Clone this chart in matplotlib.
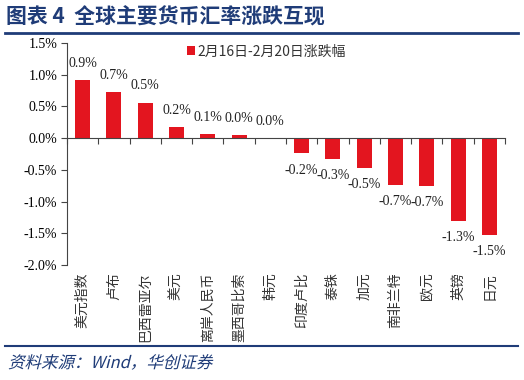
import matplotlib
matplotlib.use("Agg")
import matplotlib.pyplot as plt
from matplotlib.lines import Line2D
from matplotlib.patches import PathPatch
from matplotlib.textpath import TextPath
from matplotlib.font_manager import FontProperties
from matplotlib.transforms import Affine2D
import numpy as np

plt.rcParams['font.family'] = ['Noto Sans CJK SC', 'DejaVu Sans']

currencies = ['美元指数', '卢布', '巴西雷亚尔', '美元', '离岸人民币', '墨西哥比索', '韩元',
              '印度卢比', '泰铢', '加元', '南非兰特', '欧元', '英镑', '日元']
changes = [0.92, 0.73, 0.56, 0.18, 0.07, 0.05, 0.003,
           -0.24, -0.33, -0.47, -0.74, -0.75, -1.30, -1.53]
value_labels = ['0.9%', '0.7%', '0.5%', '0.2%', '0.1%', '0.0%', '0.0%',
                '-0.2%', '-0.3%', '-0.5%', '-0.7%', '-0.7%', '-1.3%', '-1.5%']
yticks = [1.5, 1.0, 0.5, 0.0, -0.5, -1.0, -1.5, -2.0]
legend_label = '2月16日-2月20日涨跌幅'

red = '#E3151F'
navy = '#1F3C78'
serif = ['Liberation Serif', 'DejaVu Serif']

fig = plt.figure(figsize=(5.24, 3.8), dpi=100)
ax = fig.add_axes([67/524, 1-265/380, 438/524, 222/380])

x = np.arange(len(currencies))
ax.bar(x, changes, width=0.48, color=red, label=legend_label, zorder=2)
ax.set_xlim(-0.5, len(currencies) - 0.5)
ax.set_ylim(-2.0, 1.5)

for xi, v, lab in zip(x, changes, value_labels):
    off = 12 if v >= 0 else -12
    ax.annotate(lab, (xi, v), xytext=(0, off), textcoords='offset points',
                ha='center', va='center', fontsize=10, family=serif, color='#222222')

ax.spines['top'].set_visible(False)
ax.spines['right'].set_visible(False)
ax.spines['bottom'].set_position(('data', 0))
ax.spines['left'].set_color('#444444')
ax.spines['bottom'].set_color('#444444')

ax.set_yticks(yticks)
ax.set_yticklabels([f'{t:.1f}%' for t in yticks], family=serif, fontsize=10)
ax.set_xticks(np.arange(-0.5, len(currencies), 1.0))
ax.set_xticklabels([])
ax.tick_params(axis='x', direction='out', length=4, color='#444444')
ax.tick_params(axis='y', direction='out', length=4, color='#444444', pad=3)

# category names: rotated, top-aligned just under the plot
for xi, name in zip(x, currencies):
    ax.text(xi, -2.12, name, rotation=90, ha='center', va='top',
            fontsize=10, color='#333333')

leg = ax.legend(loc='upper left', bbox_to_anchor=(0.245, 1.05), frameon=False,
                fontsize=10, handlelength=0.6, handleheight=0.6, handletextpad=0.15)
for t in leg.get_texts():
    t.set_color('#333333')

fig.text(0.012, 1-17/380, '图表 4  全球主要货币汇率涨跌互现', fontsize=15, fontweight='bold',
         color=navy, ha='left', va='center')
fig.add_artist(Line2D([5/524, 518/524], [1-33/380, 1-33/380], color=navy, lw=2))
fig.add_artist(Line2D([5/524, 518/524], [1-346/380, 1-346/380], color=navy, lw=1.5))

# italic-looking source line (CJK font has no italic face, so skew the glyph outlines)
src = TextPath((0, 0), '资料来源：Wind，华创证券', size=16.5,
               prop=FontProperties(family='Noto Sans CJK SC'))
tr = Affine2D().skew_deg(14, 0).translate(8, 380 - 368)
fig.add_artist(PathPatch(src, transform=tr, color=navy, lw=0))

fig.savefig('out.png', dpi=100)
